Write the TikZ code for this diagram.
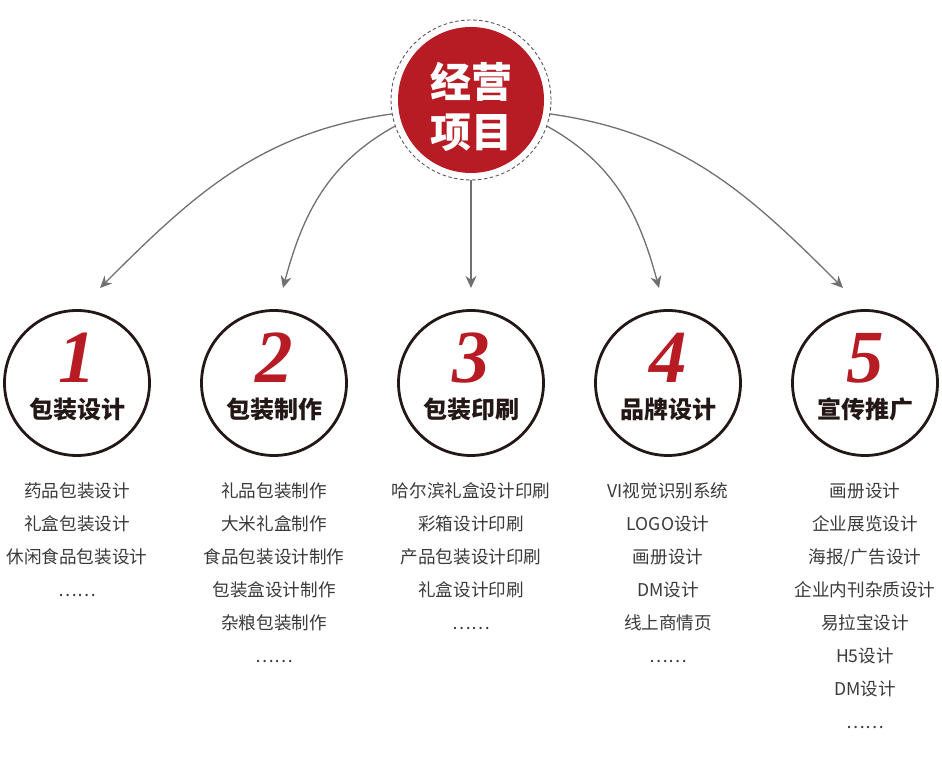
\documentclass[tikz,border=0pt]{standalone}
\usepackage{fontspec}
\setmainfont{Noto Sans CJK SC}
\newfontfamily\numfont{Liberation Serif}
\usetikzlibrary{arrows.meta}
\definecolor{brand}{HTML}{B71C24}
\definecolor{ringcol}{HTML}{231815}
\definecolor{arrowgray}{HTML}{707070}
\definecolor{textgray}{HTML}{3A3A3A}
\begin{document}
\begin{tikzpicture}[x=1pt,y=1pt,>={Stealth[length=12pt,width=11pt]},
  hub/.style={circle,draw=black!65,dash pattern=on 3.5pt off 2.5pt,line width=.9pt,minimum size=160pt,inner sep=0pt},
  core/.style={circle,fill=brand,minimum size=146pt,inner sep=0pt},
  hubtext/.style={text=white,align=center,font=\fontsize{41}{50}\selectfont\bfseries},
  item/.style={circle,draw=ringcol,line width=2.8pt,minimum size=145pt,inner sep=0pt},
  num/.style={text=brand,inner sep=0pt,font=\numfont\fontsize{75}{75}\selectfont\bfseries\itshape},
  title/.style={text=ringcol,inner sep=0pt,font=\fontsize{24}{24}\selectfont\bfseries},
  list/.style={anchor=base,text=textgray,inner sep=0pt,font=\fontsize{17.6}{17.6}\selectfont},
  link/.style={->,draw=arrowgray,line width=1.3pt}]
\useasboundingbox (0,0) rectangle (942,765);
% centre
\node[hub] (hub) at (471,665) {};
\node[core] (core) at (hub) {};
\node[hubtext] (head) at (471,658) {经营\\项目};
% five fields
\foreach \i/\x/\title in {1/77/包装设计,2/274/包装制作,3/471/包装印刷,4/668/品牌设计,5/865/宣传推广}{
  \node[item] (c\i) at (\x,382) {};
  \node[num] (n\i) at (\x,407) {\i};
  \node[title] (t\i) at (\x,356) {\title};
  \coordinate (e\i) at (\x,477);
}
\coordinate (e1) at (100,477);
\coordinate (e2) at (283,477);
\coordinate (e4) at (659,477);
\coordinate (e5) at (843,477);
% arrows
\draw[link] (hub.190) to[out=188,in=45] (e1);
\draw[link] (hub.199) to[out=209,in=75] (e2);
\draw[link] (hub.south) -- (e3);
\draw[link] (hub.341) to[out=331,in=105] (e4);
\draw[link] (hub.350) to[out=352,in=135] (e5);
% lists
\foreach \line [count=\k] in {药品包装设计,礼盒包装设计,休闲食品包装设计,……}
  \node[list] (a\k) at (77,267.5-33*\k+33) {\line};
\foreach \line [count=\k] in {礼品包装制作,大米礼盒制作,食品包装设计制作,包装盒设计制作,杂粮包装制作,……}
  \node[list] (b\k) at (274,267.5-33*\k+33) {\line};
\foreach \line [count=\k] in {哈尔滨礼盒设计印刷,彩箱设计印刷,产品包装设计印刷,礼盒设计印刷,……}
  \node[list] (d\k) at (471,267.5-33*\k+33) {\line};
\foreach \line [count=\k] in {VI视觉识别系统,LOGO设计,画册设计,DM设计,线上商情页,……}
  \node[list] (f\k) at (668,267.5-33*\k+33) {\line};
\foreach \line [count=\k] in {画册设计,企业展览设计,海报/广告设计,企业内刊杂质设计,易拉宝设计,H5设计,DM设计,……}
  \node[list] (g\k) at (865,267.5-33*\k+33) {\line};
\end{tikzpicture}
\end{document}
